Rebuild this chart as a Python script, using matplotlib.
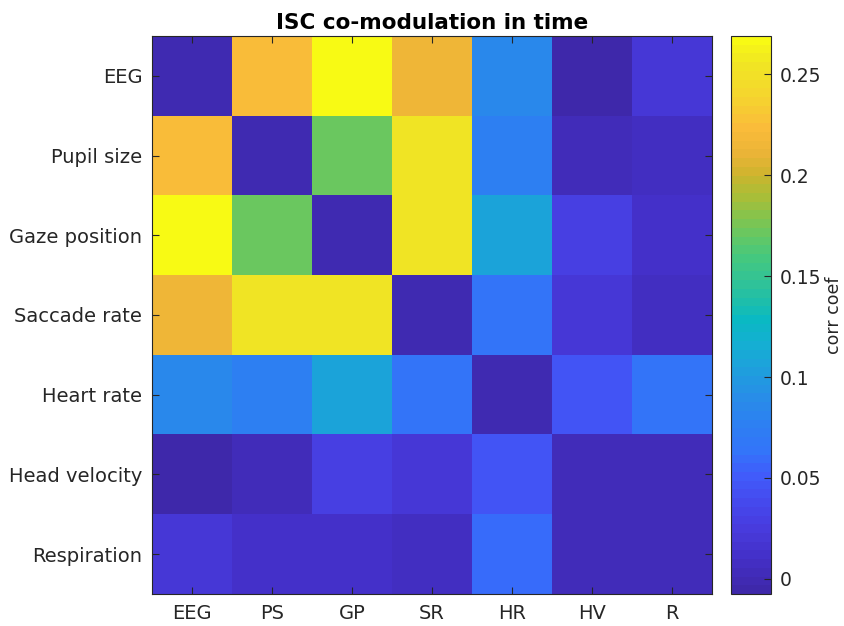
import numpy as np
import matplotlib
matplotlib.use("Agg")
import matplotlib.pyplot as plt
from matplotlib.colors import LinearSegmentedColormap, ListedColormap

# signals compared (rows / columns of the co-modulation matrix)
row_labels = ["EEG", "Pupil size", "Gaze position", "Saccade rate",
              "Heart rate", "Head velocity", "Respiration"]
col_labels = ["EEG", "PS", "GP", "SR", "HR", "HV", "R"]

# correlation coefficients, one list per row
eeg = [0.000, 0.225, 0.269, 0.214, 0.087, -0.0075, 0.020]
ps = [0.225, 0.000, 0.170, 0.255, 0.076, 0.004, 0.009]
gp = [0.268, 0.170, 0.000, 0.255, 0.106, 0.029, 0.010]
sr = [0.214, 0.255, 0.255, 0.000, 0.062, 0.020, 0.006]
hr = [0.087, 0.078, 0.106, 0.063, 0.000, 0.048, 0.062]
hv = [-0.006, 0.004, 0.029, 0.020, 0.048, 0.004, 0.004]
resp = [0.020, 0.010, 0.010, 0.006, 0.058, 0.004, 0.004]

cbar_ticks = [0, 0.05, 0.1, 0.15, 0.2, 0.25]

# parula-like colormap, 64 steps
_anchors = [
    (0.000, (62, 40, 170)), (0.059, (68, 48, 200)), (0.113, (72, 60, 222)),
    (0.149, (70, 70, 235)), (0.203, (65, 90, 250)), (0.248, (52, 115, 250)),
    (0.302, (45, 128, 242)), (0.347, (40, 140, 232)), (0.401, (30, 160, 220)),
    (0.446, (20, 175, 210)), (0.491, (10, 185, 195)), (0.527, (30, 190, 170)),
    (0.563, (50, 195, 150)), (0.608, (70, 200, 125)), (0.644, (100, 200, 100)),
    (0.680, (135, 195, 75)), (0.716, (170, 190, 55)), (0.757, (205, 180, 45)),
    (0.797, (235, 180, 55)), (0.842, (250, 188, 58)), (0.905, (245, 215, 45)),
    (0.959, (240, 230, 35)), (1.000, (248, 250, 20)),
]
_smooth = LinearSegmentedColormap.from_list(
    "parula_like", [(p, tuple(c / 255 for c in rgb)) for p, rgb in _anchors])
parula = ListedColormap(_smooth(np.linspace(0, 1, 64)))

data = np.array([eeg, ps, gp, sr, hr, hv, resp])
n = len(row_labels)

dark = (0.15, 0.15, 0.15)
plt.rcParams["font.family"] = "DejaVu Sans"

fig = plt.figure(figsize=(8.45, 6.26), dpi=100)
ax = fig.add_axes([152 / 845, 1 - 594 / 626, 560 / 845, 558 / 626])
cax = fig.add_axes([731 / 845, 1 - 594 / 626, 40 / 845, 558 / 626])

im = ax.imshow(data, cmap=parula, aspect="auto", interpolation="nearest",
               extent=(0.5, n + 0.5, n + 0.5, 0.5),
               vmin=data.min(), vmax=data.max())

ax.set_xticks(np.arange(1, n + 1))
ax.set_xticklabels(col_labels)
ax.set_yticks(np.arange(1, n + 1))
ax.set_yticklabels(row_labels)
ax.tick_params(direction="in", length=5, width=0.8, color=dark,
               labelcolor=dark, labelsize=14, top=True, right=True, pad=7)
for s in ax.spines.values():
    s.set_color(dark)
    s.set_linewidth(0.8)
ax.set_title("ISC co-modulation in time", fontsize=15.5, fontweight="bold",
             pad=5)

cb = fig.colorbar(im, cax=cax, ticks=cbar_ticks)
cb.ax.set_yticklabels(["0", "0.05", "0.1", "0.15", "0.2", "0.25"])
cb.ax.tick_params(direction="in", length=5, width=0.8, color=dark,
                  labelcolor=dark, labelsize=13.5, pad=6)
cb.outline.set_edgecolor(dark)
cb.outline.set_linewidth(0.8)
cb.set_label("corr coef", fontsize=12.5, color=dark, labelpad=3)

fig.savefig("out.png", dpi=100)
